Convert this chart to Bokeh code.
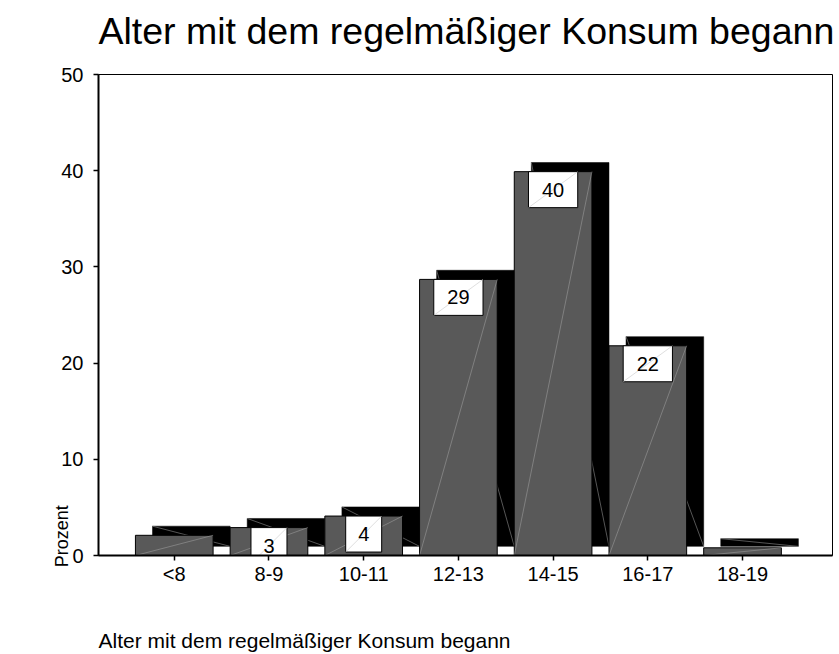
import math
from bokeh.plotting import figure
from bokeh.models import Range1d, FixedTicker, ColumnDataSource, Title, LinearAxis
from bokeh.core.properties import value
from bokeh.embed import file_html
from bokeh.resources import INLINE

# ---- data ----
categories = ["<8", "8-9", "10-11", "12-13", "14-15", "16-17", "18-19"]
percent = [2.1, 2.9, 4.1, 28.7, 39.9, 21.8, 0.8]
value_labels = ["", "3", "4", "29", "40", "22", ""]
y_ticks = [0, 10, 20, 30, 40, 50]
title_text = "Alter mit dem regelmäßiger Konsum begann"
x_label = "Alter mit dem regelmäßiger Konsum begann"
y_label = "Prozent"
y_label_at = 2   # the original puts its y title low on the axis

# ---- styles ----
FONT = "Liberation Sans"
BAR_W = 0.82
SH_DX = 0.18      # shadow offset (x, category units)
SH_DY = 0.95      # shadow offset (y, percent units)
BOX_H = 3.74      # label box height (percent units)
BOX_HW = {1: 0.19, 2: 0.26}

xs = list(range(len(categories)))

p = figure(width=839, height=654, output_backend="svg", toolbar_location=None,
           x_range=Range1d(-0.8, 6.95), y_range=Range1d(0, 50),
           min_border_left=98, min_border_right=7, min_border_top=74,
           min_border_bottom=99, title_location=None)
p.background_fill_color = "white"
p.border_fill_color = "white"
p.outline_line_color = "black"
p.outline_line_width = 1
p.xgrid.visible = False
p.ygrid.visible = False

# title (with a blank spacer between it and the frame)
spacer = Title(text=" ", text_font_size="10px", standoff=9)
p.add_layout(spacer, "above")
main_title = Title(text=title_text, align="left", text_font=FONT,
                   text_font_size="37.5px", text_font_style="normal",
                   text_color="black", standoff=2)
p.add_layout(main_title, "above")

# shadows
sh = ColumnDataSource(dict(
    x=[x + SH_DX for x in xs],
    top=[v + SH_DY for v in percent],
    x0=[x + SH_DX - BAR_W / 2 for x in xs],
    x1=[x + SH_DX + BAR_W / 2 for x in xs],
))
p.vbar(x="x", top="top", bottom=SH_DY, width=BAR_W, source=sh,
       fill_color="black", line_color="black", line_width=0.5)
p.segment(x0="x0", y0="top", x1="x1", y1=SH_DY, source=sh,
          line_color="#7a7a7a", line_width=0.7)

# front bars
fr = ColumnDataSource(dict(
    x=xs, top=percent,
    x0=[x - BAR_W / 2 for x in xs],
    x1=[x + BAR_W / 2 for x in xs],
))
p.vbar(x="x", top="top", bottom=0, width=BAR_W, source=fr,
       fill_color="#595959", line_color="black", line_width=1)
p.segment(x0="x0", y0=0, x1="x1", y1="top", source=fr,
          line_color="#9a9a9a", line_width=0.6)

# value label boxes
lx, lv, lt = [], [], []
for x, v, t in zip(xs, percent, value_labels):
    if t:
        lx.append(x); lv.append(v); lt.append(t)
hw = [BOX_HW[len(t)] for t in lt]
lb = ColumnDataSource(dict(
    left=[x - h for x, h in zip(lx, hw)],
    right=[x + h for x, h in zip(lx, hw)],
    top=lv,
    bottom=[v - BOX_H for v in lv],
    x=lx,
    y=[v - BOX_H / 2 for v in lv],
    text=lt,
))
p.quad(left="left", right="right", top="top", bottom="bottom", source=lb,
       fill_color="white", line_color="black", line_width=1)
p.segment(x0="left", y0="bottom", x1="right", y1="top", source=lb,
          line_color="#c8c8c8", line_width=0.6)
p.text(x="x", y="y", text="text", source=lb, text_align="center",
       text_baseline="middle", text_font=value(FONT), text_font_size="20px",
       text_color="black")

# axes
p.xaxis.ticker = FixedTicker(ticks=xs)
p.xaxis.major_label_overrides = {x: c for x, c in zip(xs, categories)}
p.yaxis.ticker = FixedTicker(ticks=y_ticks)
for ax in (p.xaxis[0], p.yaxis[0]):
    ax.axis_line_color = "black"
    ax.axis_line_width = 2
    ax.major_tick_line_color = "black"
    ax.major_tick_line_width = 1.5
    ax.major_tick_out = 5
    ax.major_tick_in = 0
    ax.minor_tick_line_color = None
    ax.major_label_text_font = FONT
    ax.major_label_text_font_size = "20px"
    ax.major_label_text_color = "black"
p.xaxis.major_label_standoff = 2
p.yaxis.major_label_standoff = 10
# blank spacer label so the x title sits low, as in the original
p.xaxis.axis_label = " "
p.xaxis.axis_label_text_font_size = "20px"
p.xaxis.axis_label_standoff = 12

# y-axis title, placed low on the axis like the original
yt = LinearAxis(ticker=FixedTicker(ticks=[y_label_at]),
                major_label_overrides={y_label_at: y_label},
                major_label_orientation="vertical",
                major_label_text_font=FONT, major_label_text_font_size="18px",
                major_label_text_color="black", major_label_standoff=-14,
                axis_line_color=None, major_tick_line_color=None,
                major_tick_out=0, major_tick_in=0,
                minor_tick_line_color=None)
p.add_layout(yt, "left")

# x-axis title below, left aligned
xt = Title(text=x_label, align="left", text_font=FONT, text_font_size="21px",
           text_font_style="normal", text_color="black", standoff=4)
p.add_layout(xt, "below")

open("out.html", "w").write(file_html(p, INLINE))
